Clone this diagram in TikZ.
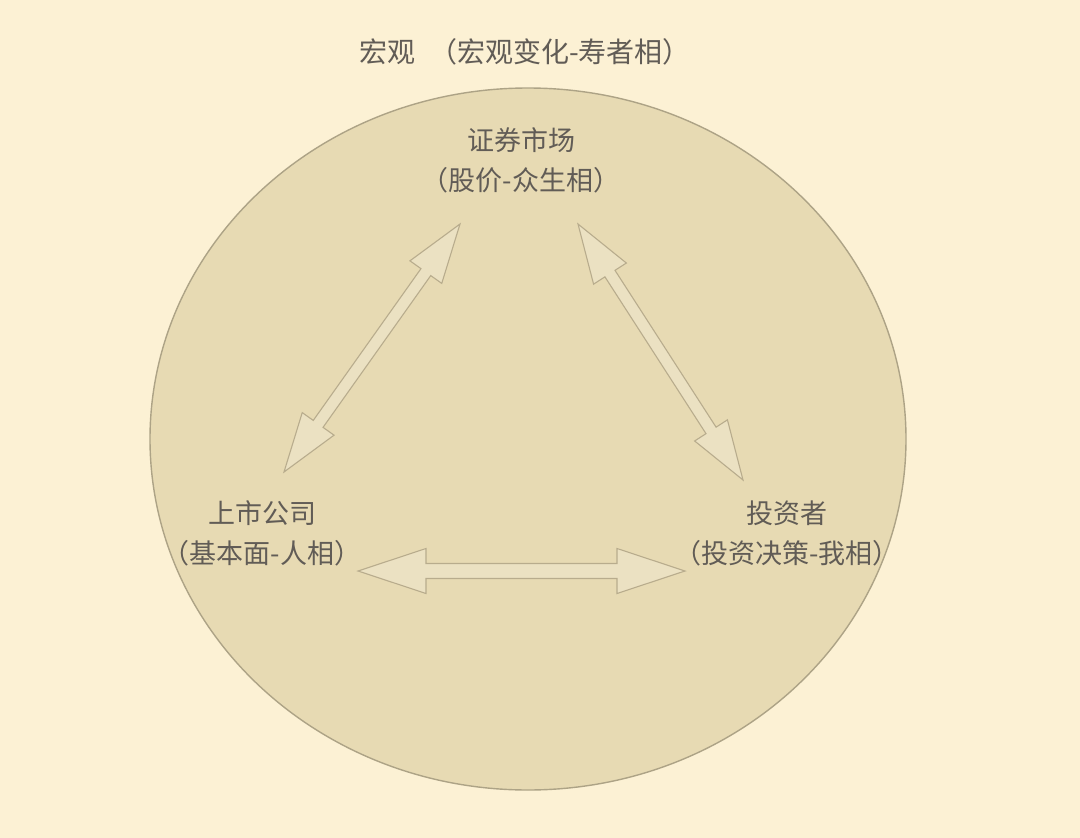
\documentclass[tikz,border=0pt]{standalone}
\usepackage{fontspec}
\setmainfont{Noto Sans CJK SC}
\usetikzlibrary{calc}
\definecolor{bgcol}{HTML}{FCF1D4}
\definecolor{circfill}{HTML}{E7DAB3}
\definecolor{circline}{HTML}{ADA386}
\definecolor{arrfill}{HTML}{EBE1C2}
\definecolor{arrline}{HTML}{B8AC8D}
\definecolor{txtcol}{HTML}{615C56}
\tikzset{
  labeltext/.style={text=txtcol, align=center, inner sep=0pt, font=\fontsize{27}{40}\selectfont},
  titletext/.style={text=txtcol, inner sep=0pt, font=\fontsize{28}{34}\selectfont},
  blockarrowstyle/.style={fill=arrfill, draw=arrline, line width=1.1pt, line join=miter},
  circlestyle/.style={fill=circfill, draw=circline, line width=1.4pt}
}
\newcommand\blockarrow[6]{%
  \coordinate (#1p) at ($(#2)!#4!(#3)$);
  \coordinate (#1q) at ($(#3)!#4!(#2)$);
  \draw[blockarrowstyle] (#2) -- ($(#1p)!#5!90:(#3)$) -- ($(#1p)!#6!90:(#3)$)
    -- ($(#1q)!#6!-90:(#2)$) -- ($(#1q)!#5!-90:(#2)$) -- (#3)
    -- ($(#1q)!#5!90:(#2)$) -- ($(#1q)!#6!90:(#2)$)
    -- ($(#1p)!#6!-90:(#3)$) -- ($(#1p)!#5!-90:(#3)$) -- cycle;}
\begin{document}
\begin{tikzpicture}[x=1pt,y=-1pt]
\fill[bgcol] (0,0) rectangle (1080,838);
\useasboundingbox (0,0) rectangle (1080,838);
\draw[circlestyle] (528,439) ellipse [x radius=378pt, y radius=351pt];
\node[titletext] (title) at (525,52) {宏观\hspace{14pt}（宏观变化-寿者相）};
\node[labeltext] (market) at (521,160) {证券市场\\（股价-众生相）};
\node[labeltext] (company) at (262,533) {上市公司\\（基本面-人相）};
\node[labeltext] (investor) at (787,533) {投资者\\（投资决策-我相）};
\coordinate (lt) at (460,224);
\coordinate (lb) at (284,472);
\coordinate (rt) at (578,224);
\coordinate (rb) at (743,480);
\coordinate (hl) at (358,571);
\coordinate (hr) at (685,571);
\blockarrow{la}{lt}{lb}{59pt}{19.5pt}{6pt}
\blockarrow{ra}{rt}{rb}{59pt}{19.5pt}{6pt}
\blockarrow{ha}{hl}{hr}{68pt}{22.5pt}{7.5pt}
\end{tikzpicture}
\end{document}
